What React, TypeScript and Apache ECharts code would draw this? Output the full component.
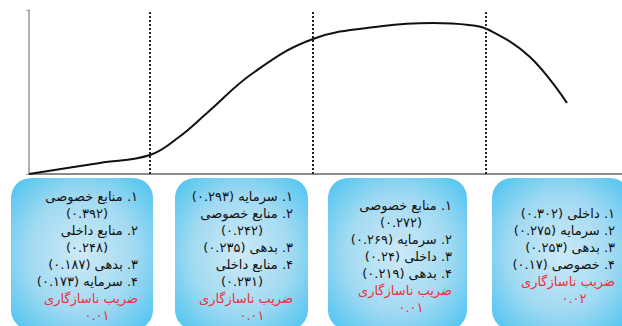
import React, { useEffect, useRef } from "react";
import * as echarts from "echarts";

// Curve (horizontal position, level)
const curveX = [0, 71, 121, 150, 178, 224, 284, 354, 404, 440, 460, 501, 538];
const curveY = [0, 11, 19, 37, 61, 101, 135, 148, 151, 149, 144, 117, 71];
// Stage boundaries (dotted lines)
const stageBounds = [121, 284, 457];

// Stage factor rankings
const stage1Names = ["منابع خصوصی", "منابع داخلی", "بدهی", "سرمایه"];
const stage1Values = [0.392, 0.248, 0.187, 0.173];
const stage1Wrap = [true, true, false, false];
const stage2Names = ["سرمایه", "منابع خصوصی", "بدهی", "منابع داخلی"];
const stage2Values = [0.293, 0.242, 0.235, 0.231];
const stage2Wrap = [false, true, false, true];
const stage3Names = ["منابع خصوصی", "سرمایه", "داخلی", "بدهی"];
const stage3Values = [0.272, 0.269, 0.24, 0.219];
const stage3Wrap = [true, false, false, false];
const stage4Names = ["داخلی", "سرمایه", "بدهی", "خصوصی"];
const stage4Values = [0.302, 0.275, 0.253, 0.17];
const stage4Wrap = [false, false, false, false];
const inconsistencyLabel = "ضریب ناسازگاری";
const inconsistency = [0.01, 0.01, 0.01, 0.02];

const stages = [
  { names: stage1Names, values: stage1Values, wrap: stage1Wrap },
  { names: stage2Names, values: stage2Values, wrap: stage2Wrap },
  { names: stage3Names, values: stage3Values, wrap: stage3Wrap },
  { names: stage4Names, values: stage4Values, wrap: stage4Wrap },
];

// box geometry (pixels)
const boxes = [
  { x0: 11, x1: 153 },
  { x0: 175, x1: 308 },
  { x0: 328, x1: 467 },
  { x0: 492, x1: 630 },
];

const fa = (s: string) => s.replace(/[0-9]/g, (d) => "۰۱۲۳۴۵۶۷۸۹"[+d]);
const rtl = (s: string) => "\u202B" + s + "\u202C";

export default function App() {
  const ref = useRef<HTMLDivElement>(null);
  useEffect(() => {
    if (!ref.current) return;
    const chart = echarts.init(ref.current, null, { renderer: "svg" });
    const font = "DejaVu Sans";
    const graphics: any[] = [];
    const boxTop = 178;
    const boxH = 152;
    const midY = 256;
    const step = 17;
    stages.forEach((st, i) => {
      const b = boxes[i];
      graphics.push({
        type: "rect",
        shape: { x: b.x0, y: boxTop, width: b.x1 - b.x0, height: boxH, r: 20 },
        style: {
          fill: new echarts.graphic.RadialGradient(0.5, 0.5, 0.75, [
            { offset: 0, color: "#cdeaf6" },
            { offset: 0.5, color: "#a2daf2" },
            { offset: 1, color: "#3dbfee" },
          ]),
        },
        z: 1,
      });
      const lines: { t: string; kind: string; red?: boolean }[] = [];
      st.names.forEach((n, k) => {
        const num = fa(String(k + 1));
        const v = "(" + fa(String(st.values[k])) + ")";
        if (st.wrap[k]) {
          lines.push({ t: num + ". " + n, kind: "right" });
          lines.push({ t: v, kind: "val" });
        } else {
          lines.push({ t: num + ". " + n + " " + v, kind: "right" });
        }
      });
      lines.push({ t: inconsistencyLabel, kind: "right", red: true });
      lines.push({ t: fa(String(inconsistency[i])), kind: "coef", red: true });
      const anchor = b.x1 - 15;
      const startY = midY - ((lines.length - 1) * step) / 2;
      lines.forEach((ln, j) => {
        let x = anchor;
        let align = "right";
        if (ln.kind === "val") {
          x = anchor - 51;
          align = "center";
        } else if (ln.kind === "coef") {
          x = anchor - 41;
          align = "center";
        }
        graphics.push({
          type: "text",
          x,
          y: startY + j * step,
          z: 2,
          style: {
            text: rtl(ln.t),
            fill: ln.red ? "#ee2e3a" : "#111111",
            fontFamily: font,
            fontSize: 13,
            textAlign: align,
            textVerticalAlign: "middle",
          },
        });
      });
    });

    chart.setOption({
      animation: false,
      backgroundColor: "#ffffff",
      grid: { left: 29, right: 0, top: 10, height: 164 },
      xAxis: {
        type: "value",
        min: 0,
        max: 593,
        axisLine: { show: true, lineStyle: { color: "#666", width: 1.5 } },
        axisTick: { show: false },
        axisLabel: { show: false },
        splitLine: { show: false },
      },
      yAxis: {
        type: "value",
        min: 0,
        max: 164,
        interval: 164,
        axisLine: { show: true, lineStyle: { color: "#999", width: 1.5 } },
        axisTick: { show: true, length: 3, lineStyle: { color: "#999" } },
        axisLabel: { show: false },
        splitLine: { show: false },
      },
      series: [
        {
          type: "line",
          data: curveX.map((x, i) => [x, curveY[i]]),
          smooth: 0.4,
          showSymbol: false,
          lineStyle: { color: "#111", width: 2 },
          markLine: {
            silent: true,
            symbol: "none",
            label: { show: false },
            lineStyle: { type: [2, 2], color: "#222", width: 2 },
            data: stageBounds.map((v) => ({ xAxis: v })),
          },
          z: 3,
        },
      ],
      graphic: graphics,
    });
    return () => chart.dispose();
  }, []);
  return <div ref={ref} style={{ width: 622, height: 326, position: "absolute", left: 0, top: 0 }} />;
}
